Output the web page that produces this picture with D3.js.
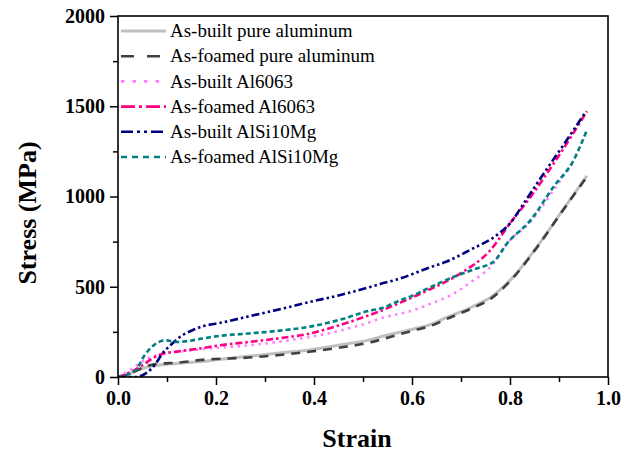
<!DOCTYPE html>
<html>
<head>
<meta charset="utf-8">
<script src="https://cdn.jsdelivr.net/npm/d3@7"></script>
<style>
  html, body { margin: 0; padding: 0; background: #fff; }
  svg { display: block; }
  text { font-family: "Liberation Serif", "Times New Roman", serif; fill: #000; }
</style>
</head>
<body>
<svg id="chart" width="634" height="454"></svg>
<script>
// Compressive stress–strain curves, [strain, stress in MPa]
const asBuiltPureAl = [[0,0],[0.02,15],[0.04,38],[0.06,55],[0.085,66],[0.12,75],[0.17,86],[0.2,95],[0.27,116],[0.33,133],[0.39,150],[0.45,176],[0.515,207],[0.535,222],[0.603,266],[0.637,290],[0.671,330],[0.72,385],[0.76,440],[0.807,555],[0.855,721],[0.903,906],[0.957,1115]];
const asFoamedPureAl = [[0,0],[0.03,25],[0.053,55],[0.077,72],[0.124,80],[0.172,95],[0.267,108],[0.33,122],[0.39,140],[0.45,162],[0.515,192],[0.535,206],[0.603,258],[0.637,282],[0.671,322],[0.72,378],[0.76,432],[0.807,552],[0.855,718],[0.903,904],[0.957,1110]];
const asBuiltAl6063 = [[0,0],[0.025,40],[0.043,74],[0.063,105],[0.09,128],[0.124,140],[0.172,155],[0.27,176],[0.33,196],[0.392,222],[0.45,255],[0.515,305],[0.535,324],[0.603,370],[0.637,405],[0.685,462],[0.72,525],[0.76,610],[0.80,758],[0.842,860],[0.889,1036],[0.927,1180]];
const asFoamedAl6063 = [[0,0],[0.033,37],[0.05,65],[0.07,102],[0.09,128],[0.124,142],[0.172,160],[0.209,176],[0.267,194],[0.33,215],[0.392,241],[0.45,285],[0.515,345],[0.535,365],[0.576,412],[0.603,444],[0.637,486],[0.699,574],[0.76,703],[0.80,851],[0.842,998],[0.896,1211],[0.957,1472]];
const asBuiltAlSi10Mg = [[0,0],[0.036,0],[0.056,19],[0.077,74],[0.09,128],[0.107,176],[0.131,231],[0.152,259],[0.172,280],[0.209,300],[0.27,338],[0.33,375],[0.392,416],[0.45,452],[0.515,499],[0.535,515],[0.576,546],[0.637,608],[0.671,640],[0.72,706],[0.773,786],[0.80,851],[0.828,962],[0.876,1156],[0.916,1313],[0.955,1472]];
const asFoamedAlSi10Mg = [[0,0],[0.036,37],[0.053,115],[0.073,176],[0.097,203],[0.121,194],[0.145,200],[0.172,213],[0.202,226],[0.267,241],[0.33,257],[0.392,279],[0.45,315],[0.515,368],[0.535,379],[0.576,425],[0.603,453],[0.637,497],[0.685,555],[0.73,600],[0.767,640],[0.794,740],[0.842,869],[0.889,1054],[0.93,1202],[0.957,1368]];

const seriesNames = ["As-built pure aluminum","As-foamed pure aluminum","As-built Al6063","As-foamed Al6063","As-built AlSi10Mg","As-foamed AlSi10Mg"];
const seriesData = [asBuiltPureAl, asFoamedPureAl, asBuiltAl6063, asFoamedAl6063, asBuiltAlSi10Mg, asFoamedAlSi10Mg];

const xTicks = [0, 0.2, 0.4, 0.6, 0.8, 1.0];
const yTicks = [0, 500, 1000, 1500, 2000];
const xTitle = "Strain";
const yTitle = "Stress (MPa)";

// Stroke styles per series (plot dash pattern and the longer legend sample pattern)
const styles = [
  { color: "#c0c0c0", width: 3,   dash: null,                  legendDash: null },
  { color: "#404040", width: 2.6, dash: "9,7",                 legendDash: "13,13" },
  { color: "#ff80ff", width: 2.6, dash: "2.5,4.5",             legendDash: "3.5,8" },
  { color: "#ff0080", width: 2.6, dash: "7,3,2.5,3",           legendDash: "14,4,3,4" },
  { color: "#000080", width: 2.6, dash: "8,3,2.5,3,2.5,3",     legendDash: "12,4,3,4,3,4" },
  { color: "#008080", width: 2.6, dash: "5,3",                 legendDash: "6,5" }
];

const svg = d3.select("#chart");
const m = { left: 118, top: 16, right: 634 - 608, bottom: 454 - 377 };
const W = 634 - m.left - m.right, H = 454 - m.top - m.bottom;

const x = d3.scaleLinear().domain([0, 1]).range([m.left, m.left + W]);
const y = d3.scaleLinear().domain([0, 2000]).range([m.top + H, m.top]);

// clip region for curves
svg.append("defs").append("clipPath").attr("id", "plotClip")
  .append("rect").attr("x", m.left).attr("y", m.top).attr("width", W).attr("height", H);

const line = d3.line().x(d => x(d[0])).y(d => y(d[1])).curve(d3.curveMonotoneX);

const curves = svg.append("g").attr("clip-path", "url(#plotClip)");
seriesData.forEach((data, i) => {
  const s = styles[i];
  curves.append("path")
    .datum(data)
    .attr("d", line)
    .attr("fill", "none")
    .attr("stroke", s.color)
    .attr("stroke-width", s.width)
    .attr("stroke-dasharray", s.dash)
    .attr("stroke-linejoin", "round");
});

// Axes
const xAxis = d3.axisBottom(x).tickValues(xTicks).tickFormat(d3.format(".1f")).tickSize(8).tickPadding(6);
const xMinor = d3.axisBottom(x).tickValues([0.1, 0.3, 0.5, 0.7, 0.9]).tickFormat("").tickSize(5);
const yAxis = d3.axisLeft(y).tickValues(yTicks).tickFormat(d3.format("d")).tickSize(8).tickPadding(5);
const yMinor = d3.axisLeft(y).tickValues([250, 750, 1250, 1750]).tickFormat("").tickSize(5);

function styleAxis(g) {
  g.select(".domain").remove();
  g.selectAll("line").attr("stroke", "#000").attr("stroke-width", 1.5);
  g.selectAll("text").attr("font-family", "Liberation Serif, Times New Roman, serif")
    .attr("font-weight", "bold").attr("font-size", 20).attr("fill", "#000");
}

svg.append("g").attr("transform", `translate(0,${m.top + H})`).call(xAxis).call(styleAxis);
svg.append("g").attr("transform", `translate(0,${m.top + H})`).call(xMinor).call(styleAxis);
svg.append("g").attr("transform", `translate(${m.left},0)`).call(yAxis).call(styleAxis);
svg.append("g").attr("transform", `translate(${m.left},0)`).call(yMinor).call(styleAxis);

// Frame
svg.append("rect").attr("x", m.left).attr("y", m.top).attr("width", W).attr("height", H)
  .attr("fill", "none").attr("stroke", "#000").attr("stroke-width", 1.6);

// Axis titles
svg.append("text").attr("x", 357).attr("y", 447).attr("text-anchor", "middle")
  .attr("font-weight", "bold").attr("font-size", 26).text(xTitle);
svg.append("text").attr("transform", "translate(36,213) rotate(-90)").attr("text-anchor", "middle")
  .attr("font-weight", "bold").attr("font-size", 26).text(yTitle);

// Legend
const legend = svg.append("g");
seriesNames.forEach((name, i) => {
  const s = styles[i];
  const cy = 31 + i * 25.2;
  legend.append("line").attr("x1", 121).attr("x2", 166).attr("y1", cy).attr("y2", cy)
    .attr("stroke", s.color).attr("stroke-width", s.width).attr("stroke-dasharray", s.legendDash);
  legend.append("text").attr("x", 170).attr("y", cy).attr("dy", "0.33em")
    .attr("font-size", 19).text(name);
});
</script>
</body>
</html>
